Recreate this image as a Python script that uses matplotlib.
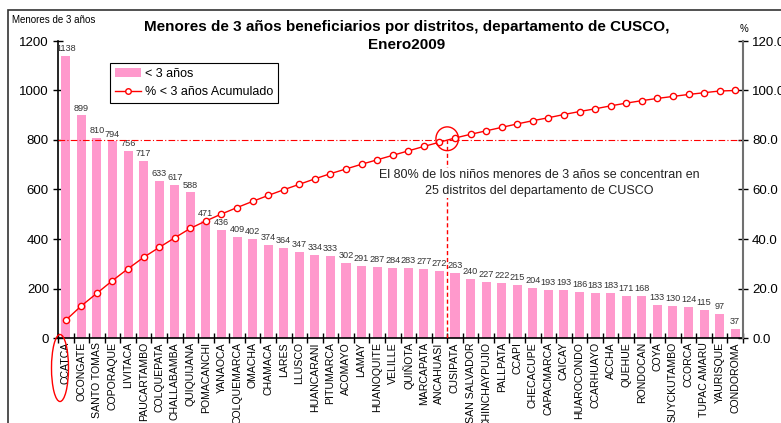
import numpy as np
import matplotlib.pyplot as plt
from matplotlib.patches import Ellipse, Rectangle
from matplotlib.lines import Line2D

plt.rcParams['font.family'] = ['Liberation Sans', 'DejaVu Sans']

distritos = ["CCATCA", "OCONGATE", "SANTO TOMAS", "COPORAQUE", "LIVITACA", "PAUCARTAMBO",
             "COLQUEPATA", "CHALLABAMBA", "QUIQUIJANA", "POMACANCHI", "YANAOCA", "COLQUEMARCA",
             "OMACHA", "CHAMACA", "LARES", "LLUSCO", "HUANCARANI", "PITUMARCA", "ACOMAYO",
             "LAMAY", "HUANOQUITE", "VELILLE", "QUIÑOTA", "MARCAPATA", "ANCAHUASI", "CUSIPATA",
             "SAN SALVADOR", "CHINCHAYPUJIO", "PALLPATA", "CCAPI", "CHECACUPE", "CAPACMARCA",
             "CAICAY", "HUAROCONDO", "CCARHUAYO", "ACCHA", "QUEHUE", "RONDOCAN", "COYA",
             "SUYCKUTAMBO", "CCORCA", "TUPAC AMARU", "YAURISQUE", "CONDOROMA"]

menores = [1138, 899, 810, 794, 756, 717, 633, 617, 588, 471, 436, 409, 402, 374, 364,
           347, 334, 333, 302, 291, 287, 284, 283, 277, 272, 263, 240, 227, 222, 215,
           204, 193, 193, 186, 183, 183, 171, 168, 133, 130, 124, 115, 97, 37]

acumulado = [7.2, 13.0, 18.1, 23.2, 28.0, 32.6, 36.6, 40.5, 44.3, 47.3, 50.1, 52.7,
             55.2, 57.6, 59.9, 62.1, 64.3, 66.4, 68.3, 70.2, 72.0, 73.8, 75.6, 77.4,
             79.1, 80.8, 82.3, 83.7, 85.1, 86.5, 87.8, 89.0, 90.3, 91.5, 92.6, 93.8,
             94.9, 95.9, 96.8, 97.6, 98.4, 99.1, 99.8, 100.0]

W, H = 781, 423
fig = plt.figure(figsize=(W / 100, H / 100), dpi=100)
ax = fig.add_axes([58 / W, 1 - 338 / H, (743 - 58) / W, (338 - 41) / H])

x = np.arange(len(distritos))
bars = ax.bar(x, menores, width=0.58, color='#FF99CC', zorder=2)
for xi, v in zip(x, menores):
    ax.text(xi, v + 12, str(v), ha='center', va='bottom', fontsize=6.6, color='#333333')

ax.set_xlim(-0.5, len(distritos) - 0.5)
ax.set_ylim(0, 1200)
ax.set_yticks(range(0, 1201, 200))
ax.tick_params(axis='y', direction='inout', length=7, width=1, labelsize=9.5, pad=3)
ax.set_xticks(x)
ax.set_xticklabels(distritos, rotation=90, fontsize=7.6)
ax.tick_params(axis='x', which='major', length=0, pad=3)
ax.set_xticks(np.arange(-0.5, len(distritos), 1), minor=True)
ax.tick_params(axis='x', which='minor', direction='inout', length=7, width=1)
ax.spines['top'].set_visible(False)
ax.spines['right'].set_visible(False)
ax.spines['left'].set_linewidth(1.2)
ax.spines['bottom'].set_linewidth(1.2)

ax2 = ax.twinx()
ax2.set_ylim(0, 120)
ax2.set_yticks(range(0, 121, 20))
ax2.set_yticklabels([f'{t:.1f}' for t in range(0, 121, 20)])
ax2.tick_params(axis='y', direction='inout', length=7, width=1, labelsize=9.5, pad=3)
for s in ['top', 'left', 'bottom']:
    ax2.spines[s].set_visible(False)
ax2.spines['right'].set_color('#707070')
ax2.spines['right'].set_linewidth(1.5)

ax2.plot(x, acumulado, color='red', lw=1, marker='o', markersize=4.5,
         markerfacecolor='white', markeredgecolor='red', markeredgewidth=1, zorder=4)
ax2.axhline(80, color='red', lw=0.8, linestyle=(0, (6, 2, 1, 2)), zorder=3)
ax2.plot([24.5, 24.5], [0, 80], color='red', lw=1, linestyle=(0, (3, 2)), zorder=3)
ax2.add_patch(Ellipse((24.5, 80.5), 1.45, 9.6, fill=False, edgecolor='red', lw=1, zorder=5))

fig.text(539 / W, 1 - 183 / H,
         'El 80% de los niños menores de 3 años se concentran en\n25 distritos del departamento de CUSCO',
         ha='center', va='center', fontsize=9, color='#222222', linespacing=1.35,
         bbox=dict(facecolor='white', edgecolor='none', pad=1), zorder=6)

fig.text(407 / W, 1 - 36 / H,
         'Menores de 3 años beneficiarios por distritos, departamento de CUSCO,\nEnero2009',
         ha='center', va='center', fontsize=11, fontweight='bold', linespacing=1.3)
fig.text(12 / W, 1 - 20 / H, 'Menores de 3 años', fontsize=7, va='center')
fig.text(744 / W, 1 - 29 / H, '%', fontsize=7, va='center', ha='center')

handles = [bars, Line2D([], [], color='red', lw=1, marker='o', markersize=4,
                        markerfacecolor='white', markeredgecolor='red')]
leg = ax.legend(handles, ['< 3 años', '% < 3 años Acumulado'],
                loc='upper left', bbox_to_anchor=(110 / W, 1 - 63 / H),
                bbox_transform=fig.transFigure, fontsize=9, frameon=True,
                fancybox=False, edgecolor='black', framealpha=1,
                handlelength=2.1, handletextpad=0.3, borderpad=0.4, labelspacing=0.5,
                borderaxespad=0)
leg.get_frame().set_linewidth(0.8)
leg.set_zorder(10)

# outline around the CCATCA label
fig.patches.append(Ellipse((60 / W, 1 - 368 / H), 17 / W, 67 / H, transform=fig.transFigure,
                           fill=False, edgecolor='red', lw=1))
# outer frame of the chart
fig.patches.append(Rectangle((8 / W, -0.2), 1.2, 1.2 - 10 / H, transform=fig.transFigure,
                             fill=False, edgecolor='#333333', lw=1.2))

fig.savefig('out.png', dpi=100)
